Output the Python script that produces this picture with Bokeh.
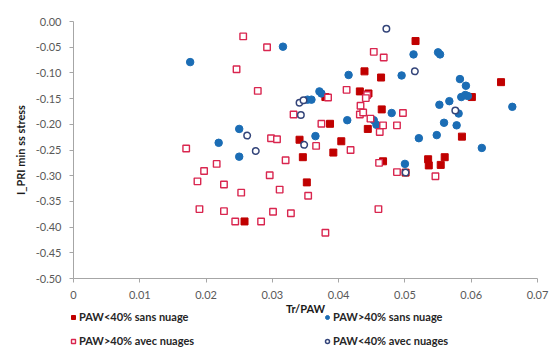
from bokeh.plotting import figure
from bokeh.layouts import column
from bokeh.models import Range1d, FixedTicker, NumeralTickFormatter, Legend, LegendItem
from bokeh.embed import file_html
from bokeh.resources import INLINE

# PAW<40% sans nuage (filled red squares)
red_x = [0.0516, 0.0439, 0.0464, 0.0645, 0.0432, 0.0445, 0.0380, 0.0601, 0.0465, 0.0387,
         0.0444, 0.0341, 0.0404, 0.0586, 0.0392, 0.0346, 0.0467, 0.0501, 0.0535, 0.0536,
         0.0554, 0.0560, 0.0352, 0.0258]
red_y = [-0.038, -0.097, -0.109, -0.118, -0.136, -0.140, -0.147, -0.147, -0.171, -0.199,
         -0.209, -0.230, -0.233, -0.224, -0.255, -0.264, -0.272, -0.294, -0.268, -0.280,
         -0.279, -0.264, -0.313, -0.389]

# PAW>40% sans nuage (filled blue circles)
blue_x = [0.0176, 0.0316, 0.0513, 0.0550, 0.0553, 0.0415, 0.0495, 0.0583, 0.0592, 0.0662,
          0.0371, 0.0374, 0.0353, 0.0359, 0.0585, 0.0591, 0.0595, 0.0567, 0.0552, 0.0480,
          0.0453, 0.0457, 0.0581, 0.0413, 0.0559, 0.0578, 0.0365, 0.0521, 0.0548, 0.0616,
          0.0500, 0.0250, 0.0219, 0.0250]
blue_y = [-0.079, -0.049, -0.064, -0.060, -0.064, -0.104, -0.105, -0.112, -0.125, -0.166,
          -0.136, -0.140, -0.152, -0.152, -0.147, -0.143, -0.145, -0.155, -0.162, -0.178,
          -0.192, -0.201, -0.179, -0.192, -0.197, -0.202, -0.223, -0.227, -0.221, -0.246,
          -0.277, -0.209, -0.236, -0.263]

# PAW>40% avec nuages (open squares)
osq_x = [0.0453, 0.0468, 0.0412, 0.0443, 0.0441, 0.0384, 0.0433, 0.0497, 0.0432, 0.0437,
         0.0448, 0.0332, 0.0374, 0.0467, 0.0488, 0.0462, 0.0366, 0.0418, 0.0298, 0.0307,
         0.0320, 0.0461, 0.0488, 0.0546, 0.0311, 0.0354, 0.0328, 0.0460, 0.0380, 0.0170,
         0.0216, 0.0197, 0.0187, 0.0227, 0.0253, 0.0190, 0.0227, 0.0244, 0.0283, 0.0301,
         0.0296, 0.0256, 0.0292, 0.0246, 0.0278]
osq_y = [-0.059, -0.070, -0.133, -0.143, -0.149, -0.148, -0.164, -0.178, -0.181, -0.177,
         -0.189, -0.181, -0.199, -0.202, -0.202, -0.215, -0.242, -0.250, -0.227, -0.229,
         -0.270, -0.275, -0.293, -0.301, -0.327, -0.339, -0.373, -0.365, -0.411, -0.247,
         -0.277, -0.291, -0.311, -0.317, -0.333, -0.365, -0.369, -0.389, -0.389, -0.370,
         -0.299, -0.029, -0.050, -0.093, -0.135]

# PAW<40% avec nuages (open circles)
oci_x = [0.0472, 0.0515, 0.0341, 0.0347, 0.0576, 0.0343, 0.0348, 0.0262, 0.0275, 0.0501]
oci_y = [-0.014, -0.097, -0.158, -0.153, -0.173, -0.182, -0.240, -0.222, -0.252, -0.294]

x_ticks = [0, 0.01, 0.02, 0.03, 0.04, 0.05, 0.06, 0.07]
y_ticks = [0.0, -0.05, -0.10, -0.15, -0.20, -0.25, -0.30, -0.35, -0.40, -0.45, -0.50]

labels = ["PAW<40% sans nuage", "PAW>40% sans nuage",
          "PAW>40% avec nuages", "PAW<40% avec nuages"]

FONT = "Lato"
STYLES = [
    dict(marker="square", fill_color="#C00000", line_color="#C00000", line_width=1),
    dict(marker="circle", fill_color="#1B6DB5", line_color="#1B6DB5", line_width=1),
    dict(marker="square", fill_color="white", line_color="#D9264F", line_width=1.4),
    dict(marker="circle", fill_color="white", line_color="#34457A", line_width=1.5),
]
SIZES = [7, 7.5, 6.5, 6.5]

p = figure(width=560, height=318, output_backend="svg", toolbar_location=None,
           x_range=Range1d(0, 0.07), y_range=Range1d(-0.5, 0.0),
           min_border_left=73, min_border_right=23, min_border_top=21, min_border_bottom=40)
p.outline_line_color = None
p.grid.visible = False
p.background_fill_color = "white"

for xs, ys, st, sz in zip([red_x, blue_x, osq_x, oci_x], [red_y, blue_y, osq_y, oci_y],
                          STYLES, SIZES):
    p.scatter(xs, ys, size=sz, **st)

for ax in (p.xaxis, p.yaxis):
    ax.axis_line_color = "#A6A6A6"
    ax.major_tick_line_color = "#A6A6A6"
    ax.minor_tick_line_color = None
    ax.major_tick_in = 0
    ax.major_tick_out = 4
    ax.major_label_text_font = FONT
    ax.major_label_text_font_size = "11px"
    ax.major_label_text_color = "#595959"
    ax.axis_label_text_font = FONT
    ax.axis_label_text_font_size = "11px"
    ax.axis_label_text_font_style = "bold"
    ax.axis_label_text_color = "#1a1a1a"

p.xaxis.ticker = FixedTicker(ticks=x_ticks)
p.yaxis.ticker = FixedTicker(ticks=y_ticks)
p.xaxis.formatter = NumeralTickFormatter(format="0.[00]")
p.yaxis.formatter = NumeralTickFormatter(format="0.00")
p.xaxis.axis_label = "Tr/PAW"
p.yaxis.axis_label = "I_PRI min ss stress"
p.xaxis.major_label_standoff = 8
p.xaxis.axis_label_standoff = 0
p.yaxis.major_label_standoff = 8
p.yaxis.axis_label_standoff = 6

# legend strip (transparent, overlapping the bottom of the chart slightly)
p2 = figure(width=560, height=41, output_backend="svg", toolbar_location=None,
            x_range=Range1d(0, 1), y_range=Range1d(0, 1),
            x_axis_location=None, y_axis_location=None, min_border=0)
p2.grid.visible = False
p2.outline_line_color = None
p2.background_fill_alpha = 0
p2.border_fill_alpha = 0
p2.styles = {"margin-top": "-12px", "margin-left": "-73px"}

nan = float("nan")
leg_r = [p2.scatter([nan], [nan], size=sz, **st) for st, sz in zip(STYLES, SIZES)]

legend = Legend(items=[LegendItem(label=lab, renderers=[r]) for lab, r in zip(labels, leg_r)],
                location=(68, 0), orientation="horizontal", ncols=2)
legend.background_fill_alpha = 0
legend.border_line_color = None
legend.padding = 0
legend.margin = 0
legend.spacing = 11
legend.glyph_width = 10
legend.glyph_height = 10
legend.label_height = 10
legend.label_width = 232
legend.label_standoff = 1
legend.label_text_font = FONT
legend.label_text_font_size = "11px"
legend.label_text_font_style = "bold"
legend.label_text_color = "#262626"
p2.add_layout(legend, "center")

open("out.html", "w").write(file_html(column(p, p2), INLINE))
